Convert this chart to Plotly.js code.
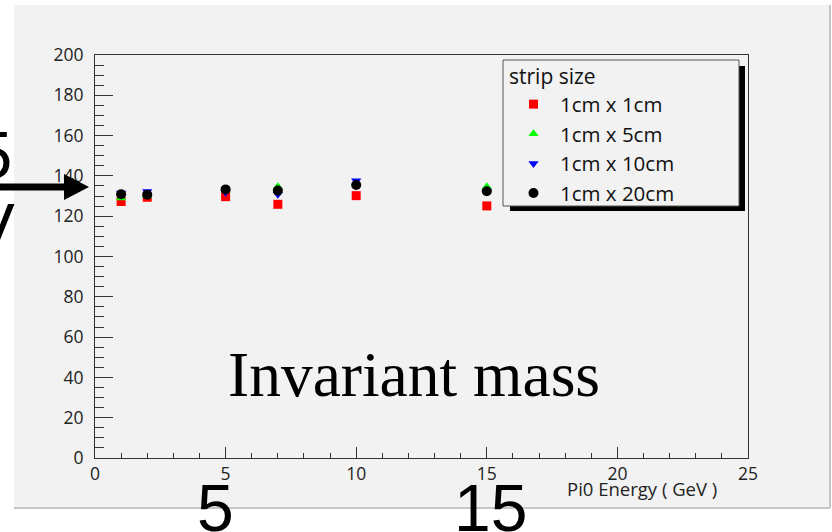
<!DOCTYPE html>
<html>
<head>
<meta charset="utf-8">
<script src="https://cdn.plot.ly/plotly-3.0.1.min.js"></script>
<style>html,body{margin:0;padding:0;background:#fff;}#chart{width:832px;height:532px;}</style>
</head>
<body>
<div id="chart"></div>
<script>
// Data
const energy = [1, 2, 5, 7, 10, 15];
const mass_1x1  = [127.3, 129.4, 129.7, 125.9, 130.2, 125.1];
const mass_1x5  = [129.0, 130.2, 133.0, 134.6, 136.5, 134.6];
const mass_1x10 = [131.5, 132.2, 131.9, 130.9, 137.6, 132.3];
const mass_1x20 = [130.9, 130.7, 133.3, 132.7, 135.5, 132.4];
const seriesNames = ["1cm x 1cm", "1cm x 5cm", "1cm x 10cm", "1cm x 20cm"];

// pixel -> paper helpers (plot area: x 95..748, y 55..458)
const L = 95, R = 748, T = 55, B = 458;
const px = x => (x - L) / (R - L);
const py = y => (B - y) / (B - T);

const mk = (name, y, color, symbol, size) => ({
  type: 'scatter', mode: 'markers', name: name, x: energy, y: y,
  marker: {color: color, symbol: symbol, size: size, line: {width: 0}},
  cliponaxis: false
});

const data = [
  mk(seriesNames[0], mass_1x1, '#ff0000', 'square', 9),
  mk(seriesNames[1], mass_1x5, '#00ff00', 'triangle-up', 9),
  mk(seriesNames[2], mass_1x10, '#0000ff', 'triangle-down', 9),
  mk(seriesNames[3], mass_1x20, '#000000', 'circle', 10)
];

const tickFont = {family: 'Open Sans, sans-serif', size: 17.5, color: '#222'};

const layout = {
  width: 832, height: 532,
  margin: {l: L, r: 832 - R, t: T, b: 532 - B, pad: 0},
  paper_bgcolor: '#ffffff',
  plot_bgcolor: 'rgba(0,0,0,0)',
  showlegend: true,
  legend: {
    x: px(507), y: py(57), xanchor: 'left', yanchor: 'top',
    bgcolor: 'rgba(0,0,0,0)', borderwidth: 0,
    font: {family: 'Open Sans, sans-serif', size: 20.5, color: '#111'},
    title: {text: 'strip size', font: {family: 'Open Sans, sans-serif', size: 21, color: '#111'}},
    itemwidth: 43, tracegroupgap: 0
  },
  xaxis: {
    range: [0, 25], dtick: 5, tick0: 0,
    ticks: 'inside', ticklen: 11, tickwidth: 1, tickcolor: '#333',
    minor: {dtick: 1, ticks: 'inside', ticklen: 5, tickcolor: '#333', showgrid: false},
    showline: true, linecolor: '#333', linewidth: 1, mirror: true,
    showgrid: false, zeroline: false, tickfont: tickFont
  },
  yaxis: {
    range: [0, 200], dtick: 20, tick0: 0,
    ticks: 'inside', ticklen: 18, tickwidth: 1, tickcolor: '#333',
    minor: {dtick: 5, ticks: 'inside', ticklen: 9, tickcolor: '#333', showgrid: false},
    showline: true, linecolor: '#333', linewidth: 1, mirror: true,
    showgrid: false, zeroline: false, tickfont: tickFont, ticklabelstandoff: 7
  },
  shapes: [
    {type: 'rect', xref: 'paper', yref: 'paper', layer: 'below',
     x0: px(14), x1: px(830), y0: py(508), y1: py(5), fillcolor: '#f2f2f2', line: {width: 0}},
    {type: 'line', xref: 'paper', yref: 'paper', layer: 'below',
     x0: px(14), x1: px(830), y0: py(508), y1: py(508), line: {color: '#c6c6c6', width: 2}},
    {type: 'line', xref: 'paper', yref: 'paper', layer: 'below',
     x0: px(830), x1: px(830), y0: py(508), y1: py(5), line: {color: '#c6c6c6', width: 2}},
    // legend shadow + box
    {type: 'rect', xref: 'paper', yref: 'paper', layer: 'above',
     x0: px(510), x1: px(745), y0: py(211), y1: py(66), fillcolor: '#000', line: {width: 0}},
    {type: 'rect', xref: 'paper', yref: 'paper', layer: 'above',
     x0: px(503), x1: px(739), y0: py(206), y1: py(60), fillcolor: '#f2f2f2', line: {color: '#555', width: 1}},
    // arrow
    {type: 'line', xref: 'paper', yref: 'paper', layer: 'above',
     x0: px(-5), x1: px(70), y0: py(187), y1: py(187), line: {color: '#000', width: 7}},
    {type: 'path', xref: 'paper', yref: 'paper', layer: 'above',
     path: 'M ' + px(64) + ' ' + py(174) + ' L ' + px(89) + ' ' + py(187) + ' L ' + px(64) + ' ' + py(200) + ' Z',
     fillcolor: '#000', line: {width: 0}}
  ],
  annotations: [
    {xref: 'paper', yref: 'paper', x: px(719), y: py(488), xanchor: 'right', yanchor: 'middle',
     text: 'Pi0 Energy ( GeV )', showarrow: false,
     font: {family: 'Open Sans, sans-serif', size: 18.5, color: '#222'}},
    {xref: 'paper', yref: 'paper', x: px(226), y: py(374), xanchor: 'left', yanchor: 'middle',
     text: 'Invariant mass', showarrow: false,
     font: {family: 'Liberation Serif, Times New Roman, serif', size: 63.5, color: '#000'}},
    {xref: 'paper', yref: 'paper', x: px(14), y: py(155), xanchor: 'right', yanchor: 'middle',
     text: '135', showarrow: false,
     font: {family: 'Liberation Sans, Arial, sans-serif', size: 66, color: '#000'}},
    {xref: 'paper', yref: 'paper', x: px(17), y: py(227), xanchor: 'right', yanchor: 'middle',
     text: 'MeV', showarrow: false,
     font: {family: 'Liberation Sans, Arial, sans-serif', size: 66, color: '#000'}},
    {xref: 'paper', yref: 'paper', x: px(215), y: py(508), xanchor: 'center', yanchor: 'middle',
     text: '5', showarrow: false,
     font: {family: 'Liberation Sans, Arial, sans-serif', size: 66, color: '#000'}},
    {xref: 'paper', yref: 'paper', x: px(490), y: py(508), xanchor: 'center', yanchor: 'middle',
     text: '15', showarrow: false,
     font: {family: 'Liberation Sans, Arial, sans-serif', size: 66, color: '#000'}}
  ]
};

Plotly.newPlot('chart', data, layout, {displayModeBar: false, staticPlot: true});
</script>
</body>
</html>
